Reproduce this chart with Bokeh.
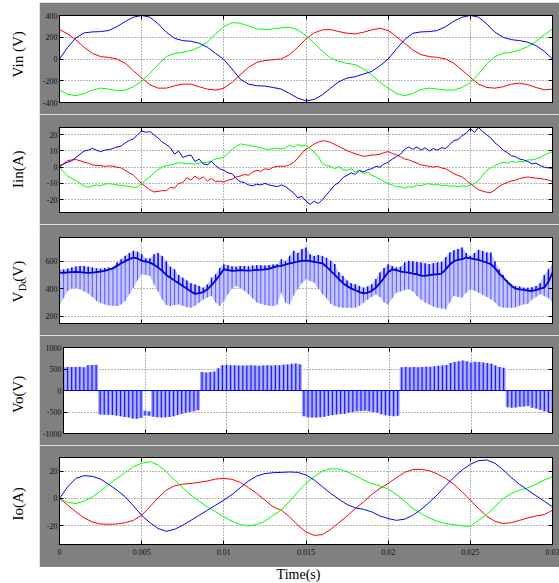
import math
from bokeh.plotting import figure
from bokeh.layouts import column, row, Spacer
from bokeh.models import FixedTicker, Range1d, Label, Span, LinearAxis, CustomLabelingPolicy
from bokeh.embed import file_html
from bokeh.resources import INLINE

# ---------------- data ----------------
t_coarse = [round(i * 0.0005, 6) for i in range(61)]
t_fine = [round(i * 0.00025, 6) for i in range(121)]
x_ticks = [0, 0.005, 0.01, 0.015, 0.02, 0.025, 0.03]
x_tick_labels = ["0", "0.005", "0.01", "0.015", "0.02", "0.025", "0.03"]

vin_blue = [0, 108, 194, 240, 249, 252, 262, 298, 345, 385,
            400, 385, 323, 246, 190, 169, 163, 145, 108, 52,
            -5, -92, -185, -231, -246, -249, -262, -277, -317, -360,
            -385, -372, -329, -268, -209, -175, -163, -138, -114, -62,
            0, 92, 178, 237, 249, 252, 262, 298, 348, 385,
            400, 385, 323, 246, 200, 178, 169, 154, 123, 71,
            0]
vin_red = [270, 231, 175, 108, 52, 22, 15, 0, -40, -108,
           -175, -237, -268, -268, -246, -231, -231, -255, -277, -286,
           -268, -215, -145, -77, -31, -15, -6, 0, 40, 108,
           185, 240, 268, 271, 252, 237, 231, 246, 268, 283,
           262, 206, 145, 83, 40, 22, 15, 0, -40, -102,
           -169, -231, -262, -268, -255, -231, -222, -237, -262, -283,
           -277]
vin_green = [-286, -323, -338, -317, -286, -268, -277, -292, -286, -255,
             -206, -132, -52, 22, 52, 62, 77, 108, 154, 231,
             298, 335, 329, 305, 277, 271, 277, 286, 292, 268,
             215, 145, 71, 9, -22, -40, -52, -92, -145, -215,
             -268, -317, -338, -317, -280, -268, -277, -286, -286, -262,
             -215, -138, -46, 22, 52, 62, 83, 114, 163, 222,
             277]

iin_blue = [1, 2, 3, 4, 6, 8, 10, 10.5, 11.6, 10.5,
            9.6, 10.5, 10.8, 11.5, 12.5, 13, 15, 16.5, 17.5, 20,
            22.4, 21.5, 22, 20, 18, 15.5, 14, 12, 8, 10,
            6, 7, 7.5, 3.5, 5, 2, 1.5, 3.5, 1, -1,
            -2, -3.5, -4, -7, -9, -9.5, -11, -11.5, -10.5, -11,
            -10, -11, -11.5, -12, -11, -12, -14, -16, -19, -18,
            -21, -23, -21, -22.5, -20, -17, -14, -11, -9.5, -6.5,
            -5, -3.5, -4.5, -2, -3, -1.5, -1, 0.5, 0, 2,
            3, 5, 6.5, 8, 11, 12.5, 11, 12.5, 10.5, 12,
            10, 11.5, 10.5, 12, 11.5, 14, 16.5, 17, 19.5, 21,
            23.9, 21.5, 24.5, 22, 20, 18, 15, 13, 10.5, 9,
            7, 6.5, 5, 4.5, 3.5, 2, 2.5, 1, 0, -0.5,
            -0.6]
iin_red = [0, 2, 4, 4.5, 4.7, 4, 3, 2.5, 1.4, 1,
           1, 0.5, 0.8, 0.6, 0, -0.5, -2, -3.5, -5, -7.5,
           -10.2, -12, -14, -15.3, -15, -14.5, -14.5, -12.5, -13, -10,
           -9.5, -6.5, -8, -5.5, -7.5, -6, -8.5, -7, -9, -8.5,
           -9.2, -8, -7.5, -6, -5.5, -4.5, -5, -3, -2, -2.5,
           -1, -1.5, 0, 0.5, 0.6, 0.5, 1.5, 3, 5.5, 8.5,
           11.2, 12.5, 14.3, 15.5, 16.3, 16, 15.3, 14, 12.8, 11.5,
           10.2, 9.2, 8.2, 7.5, 6.7, 7, 7.5, 7.6, 8, 9,
           9.6, 8.5, 7.6, 6.5, 5.1, 4.5, 3.5, 2.5, 1.4, 1,
           0.5, 0, 0.5, -0.5, -1, -2.5, -4, -5.1, -6, -8,
           -10.2, -12, -14, -14.8, -15.5, -15.7, -14, -12, -10.5, -9.5,
           -8.5, -8, -7, -6.5, -6, -6.5, -6.8, -7, -7.5, -8,
           -8.8]
iin_green = [0, -3, -5.5, -7, -8.2, -10, -11.6, -12.5, -11.5, -11,
             -11.5, -10.5, -10.2, -10.5, -11, -11.2, -11.5, -12, -12.5, -12.2,
             -10.2, -8, -6.1, -3.5, -1.5, 0, 1, 1.4, 2, 2.7,
             2.5, 2, 2.2, 1.8, 2.5, 2.8, 3, 4, 5.1, 5.5,
             6.1, 8.5, 11, 13, 14.3, 14, 13.5, 13, 12.5, 12,
             11.2, 11, 11.5, 11.8, 11.2, 12, 13.5, 12.5, 14, 13,
             13.7, 11.5, 9.2, 6.5, 2, 1, 0.5, -1, 0.5, -1.5,
             -2, -1, -3, -2, -4, -3, -5, -6, -7.5, -9,
             -10.2, -11, -12.2, -12, -13, -12, -12.5, -11, -11.5, -10.5,
             -10.2, -11, -10.5, -11.5, -11, -11.8, -11.6, -12.2, -11.5, -12,
             -11.2, -10, -8.2, -5, -2, -0.5, 1, 2, 3, 2.5,
             3.5, 3, 3.5, 3.5, 4.5, 4.5, 5.1, 6, 7.5, 8.5,
             9.6]

vdc_upper = [541, 540, 545, 555, 561, 565, 566, 560, 555, 548,
             546, 550, 554, 556, 590, 615, 640, 660, 676, 670,
             651, 620, 620, 651, 660, 639, 600, 560, 541, 500,
             480, 460, 440, 430, 420, 407, 430, 480, 505, 550,
             578, 570, 561, 560, 565, 566, 562, 568, 571, 570,
             568, 572, 576, 578, 615, 600, 640, 676, 660, 690,
             700, 650, 639, 645, 639, 625, 603, 580, 520, 493,
             460, 440, 432, 420, 407, 415, 432, 470, 517, 550,
             578, 565, 554, 560, 590, 603, 600, 595, 590, 585,
             578, 585, 590, 595, 630, 664, 680, 690, 700, 660,
             639, 660, 683, 675, 664, 664, 600, 540, 500, 460,
             432, 420, 415, 407, 407, 410, 420, 440, 500, 541,
             578]
vdc_lower = [273, 330, 383, 400, 407, 395, 380, 365, 340, 310,
             295, 285, 278, 275, 273, 285, 310, 360, 407, 460,
             505, 500, 493, 430, 380, 320, 280, 273, 280, 285,
             275, 265, 261, 275, 298, 320, 335, 346, 300, 273,
             310, 359, 400, 420, 405, 385, 360, 330, 300, 290,
             280, 275, 273, 285, 371, 300, 285, 350, 395, 440,
             468, 455, 444, 400, 360, 330, 290, 273, 265, 261,
             261, 261, 261, 275, 298, 320, 340, 359, 340, 300,
             285, 330, 371, 380, 390, 395, 380, 346, 320, 300,
             285, 270, 260, 255, 249, 300, 346, 340, 334, 370,
             395, 385, 371, 355, 340, 322, 300, 270, 261, 261,
             261, 265, 275, 285, 290, 320, 340, 359, 345, 330,
             298]
vdc_core = [517, 515, 518, 520, 522, 520, 517, 515, 517, 520,
            525, 530, 538, 548, 566, 585, 600, 615, 627, 620,
            603, 598, 590, 575, 555, 530, 500, 480, 460, 440,
            420, 400, 380, 362, 368, 375, 395, 425, 460, 500,
            541, 535, 530, 532, 535, 533, 532, 534, 537, 538,
            540, 545, 555, 565, 566, 575, 585, 590, 598, 603,
            605, 600, 595, 590, 585, 560, 530, 500, 470, 440,
            420, 400, 390, 375, 365, 370, 385, 407, 440, 480,
            520, 541, 535, 525, 520, 517, 510, 505, 495, 493,
            498, 503, 505, 510, 540, 575, 600, 610, 615, 627,
            620, 615, 610, 600, 590, 578, 550, 510, 480, 450,
            420, 400, 395, 392, 385, 383, 390, 400, 407, 450,
            517]

vo_top = ([540, 545, 548, 545, 550, 540, 590, 595, 600]
          + [0] * 11
          + [-470, -480]
          + [0] * 12
          + [430, 420, 430, 440, 520, 590, 600, 590, 585, 580,
             582, 580, 585, 580, 578, 580, 585, 582, 585, 590,
             600, 605, 620, 630, 610]
          + [0] * 24
          + [540, 545, 540, 545, 540, 545, 550, 555, 565, 575,
             580, 595, 640, 660, 680, 695, 680, 650, 670, 660,
             650, 640, 620, 580, 545, 530]
          + [0] * 12)
vo_bottom = ([0] * 9
             + [-560, -565, -566, -570, -580, -600, -615, -630, -650, -659, -640]
             + [-580, -590]
             + [-610, -620, -625, -620, -615, -600, -570, -545, -520, -500, -480, -460]
             + [0] * 25
             + [-600, -620, -630, -625, -620, -610, -590, -570, -560, -545,
                -540, -520, -500, -480, -475, -470, -480, -500, -520, -550,
                -575, -590, -600, -590]
             + [0] * 26
             + [-390, -400, -395, -380, -370, -360, -400, -420, -450, -480, -500, -520])

io_blue = [0, 8.6, 14.7, 16.7, 16.2, 14.2, 10.3, 6.1, 1.2, -5.4,
           -12.3, -17.7, -22, -24, -22.6, -19.6, -16, -12.3, -8.6, -4.9,
           -1.2, 2.9, 7.9, 12.8, 16.4, 18.2, 18.9, 19.1, 19.4, 19.1,
           17.2, 13.5, 8.6, 3.7, -0.5, -4.4, -6.9, -7.9, -9.8, -12.8,
           -14.7, -16, -15.2, -12.3, -8.1, -2.9, 2.9, 9.3, 15.5, 20.9,
           25, 27.7, 28.2, 25.8, 20.9, 15.2, 10.3, 6.1, 2, -2,
           -6.1]
io_red = [0, -4.9, -9.8, -14.2, -17.2, -18.7, -18.9, -18.7, -17.7, -16,
          -12.3, -6.1, 0.5, 6.1, 9.3, 10.5, 11, 11.8, 12.8, 14.2,
          14.7, 14, 11.8, 7.9, 3.7, -1.2, -6.1, -8.6, -13.5, -19.6,
          -24.5, -27, -26.5, -22.6, -17.7, -12.8, -7.4, -2.5, 2.9, 7.4,
          11, 15.2, 19.1, 21.1, 21.3, 20.4, 17.9, 14.7, 10.3, 4.9,
          -1.2, -7.4, -13, -16.7, -18.4, -17.7, -16, -14.2, -12.8, -11.8,
          -8.6]
io_green = [0, -2.9, -3.7, -2, 1.2, 5.4, 10.3, 14.7, 19.1, 23.3,
            25.8, 27, 24.5, 19.6, 13.5, 7.9, 2.5, -2, -6.1, -9.8,
            -13.5, -16.7, -19.1, -20.1, -19.1, -16.7, -12.3, -8.6, -2, 4.9,
            11, 16, 20.1, 21.8, 21.6, 19.6, 16.7, 13.5, 11, 9.3,
            6.9, 2.9, -2, -7.4, -11, -14.2, -16.7, -18.4, -19.1, -20.1,
            -20.4, -16, -11.8, -6.1, 0, 3.7, 6.1, 7.9, 10.3, 13.5,
            16]

# ---------------- styling ----------------
GRAY = "#808080"
TICK_FONT = "Liberation Sans Narrow"
LABEL_FONT = "Liberation Serif"
RED, GREEN, BLUE = "#ff0000", "#00ff00", "#0000ff"


def style_axis(ax, size="8px", standoff=2):
    ax.major_tick_in = 4
    ax.major_tick_out = 0
    ax.minor_tick_in = 0
    ax.minor_tick_out = 0
    ax.axis_line_color = "black"
    ax.major_tick_line_color = "black"
    ax.major_label_text_font = TICK_FONT
    ax.major_label_text_font_size = size
    ax.major_label_text_color = "#111111"
    ax.major_label_standoff = standoff


def tick_only_axis(ticks):
    """Axis that draws only inward tick marks (its labels are dropped)."""
    ax = LinearAxis(ticker=FixedTicker(ticks=ticks))
    style_axis(ax, "1px", 0)
    ax.major_label_policy = CustomLabelingPolicy(code="return new Set()")
    return ax


def make_panel(h, b_top, b_bot, yr, yticks, show_x=False):
    p = figure(width=520, height=h, x_range=Range1d(0, 0.03), y_range=Range1d(*yr),
               toolbar_location=None, output_backend="svg",
               min_border_left=20, min_border_right=7,
               min_border_top=b_top, min_border_bottom=b_bot,
               border_fill_color=GRAY, background_fill_color="white",
               outline_line_color="black")
    xt = FixedTicker(ticks=x_ticks)
    yt = FixedTicker(ticks=yticks)
    p.xaxis.ticker = xt
    p.yaxis.ticker = yt
    style_axis(p.yaxis[0])
    p.yaxis[0].major_label_overrides = {v: str(v) for v in yticks}
    if show_x:
        style_axis(p.xaxis[0], "8px", 4)
        p.xaxis[0].major_label_overrides = dict(zip(x_ticks, x_tick_labels))
    else:
        p.xaxis.visible = False
        p.add_layout(tick_only_axis(x_ticks), "below")
    p.add_layout(tick_only_axis(x_ticks), "above")
    p.add_layout(tick_only_axis(yticks), "right")
    for g in (p.xgrid[0], p.ygrid[0]):
        g.grid_line_color = "#6e6e6e"
        g.grid_line_dash = "1 2"
        g.grid_line_width = 1
    p.xgrid.ticker = xt
    p.ygrid.ticker = yt
    return p


def make_label(h, parts):
    f = figure(width=39, height=h, x_range=Range1d(0, 39), y_range=Range1d(0, h),
               x_axis_type=None, y_axis_type=None, toolbar_location=None,
               output_backend="svg", min_border=0, outline_line_color=None,
               background_fill_color="white", border_fill_color="white")
    f.grid.visible = False
    for txt, x, y_from_top, size, align in parts:
        f.add_layout(Label(x=x, y=h - y_from_top, text=txt, angle=math.pi / 2,
                           text_align=align, text_baseline="middle",
                           text_font=LABEL_FONT, text_font_size=size,
                           text_color="black"))
    return f


H = [112, 110, 111, 110, 122]

# Panel 1: Vin
p1 = make_panel(H[0], 13, 12, (-400, 400), [-400, -200, 0, 200, 400])
p1.line(t_coarse, vin_red, line_color=RED, line_width=1)
p1.line(t_coarse, vin_green, line_color=GREEN, line_width=1)
p1.line(t_coarse, vin_blue, line_color=BLUE, line_width=1)

# Panel 2: Iin
p2 = make_panel(H[1], 13, 12, (-28, 24.5), [-20, -10, 0, 10, 20])
p2.line(t_fine, iin_red, line_color=RED, line_width=1)
p2.line(t_fine, iin_green, line_color=GREEN, line_width=1)
p2.line(t_fine, iin_blue, line_color=BLUE, line_width=1)

# Panel 3: Vdc
p3 = make_panel(H[2], 13, 12, (146, 773), [200, 400, 600])
p3.varea(x=t_fine, y1=vdc_lower, y2=vdc_upper, fill_color="#c4c4ff", fill_alpha=1)
p3.segment(x0=t_fine, y0=vdc_lower, x1=t_fine, y1=vdc_upper, line_color="#5a5aff", line_width=1)
p3.segment(x0=t_fine, y0=vdc_core, x1=t_fine, y1=vdc_upper, line_color=BLUE, line_width=1.3)
p3.line(t_fine, vdc_core, line_color="#0000dd", line_width=1.8)

# Panel 4: Vo
p4 = make_panel(H[3], 12, 12, (-1000, 1000), [-1000, -500, 0, 500, 1000])
p4.vbar(x=t_fine, bottom=vo_bottom, top=vo_top, width=0.00025,
        fill_color="#a8a8ff", line_color=None)
p4.segment(x0=t_fine, y0=vo_bottom, x1=t_fine, y1=vo_top, line_color="#1a1aff", line_width=1.2)
p4.add_layout(Span(location=0, dimension="width", line_color=BLUE, line_width=1))

# Panel 5: Io
p5 = make_panel(H[4], 12, 23, (-33.7, 30), [-20, 0, 20], show_x=True)
p5.line(t_coarse, io_red, line_color=RED, line_width=1)
p5.line(t_coarse, io_green, line_color=GREEN, line_width=1)
p5.line(t_coarse, io_blue, line_color=BLUE, line_width=1)

l1 = make_label(H[0], [("Vin (V)", 17.5, 50, "15px", "center")])
l2 = make_label(H[1], [("Iin(A)", 17.5, 54, "15px", "center")])
# "V" ends at its anchor (extends downward); subscript "Dc" and "(V)" start at theirs
l3 = make_label(H[2], [("V", 17.5, 70, "15px", "right"),
                       ("Dc", 21.5, 69, "10px", "left"),
                       ("(V)", 17.5, 57, "15px", "left")])
l4 = make_label(H[3], [("Vo(V)", 17.5, 60, "15px", "center")])
l5 = make_label(H[4], [("Io(A)", 17.5, 65, "15px", "center")])

tf = figure(width=559, height=16, x_range=Range1d(0, 559), y_range=Range1d(0, 16),
            x_axis_type=None, y_axis_type=None, toolbar_location=None,
            output_backend="svg", min_border=0, outline_line_color=None,
            background_fill_color="white", border_fill_color="white")
tf.grid.visible = False
tf.add_layout(Label(x=298, y=9, text="Time(s)", text_align="center", text_baseline="middle",
                    text_font=LABEL_FONT, text_font_size="14px", text_color="black"))

layout = column(Spacer(width=559, height=2),
                row(l1, p1), row(l2, p2), row(l3, p3), row(l4, p4), row(l5, p5),
                tf)

open("out.html", "w").write(file_html(layout, INLINE))
